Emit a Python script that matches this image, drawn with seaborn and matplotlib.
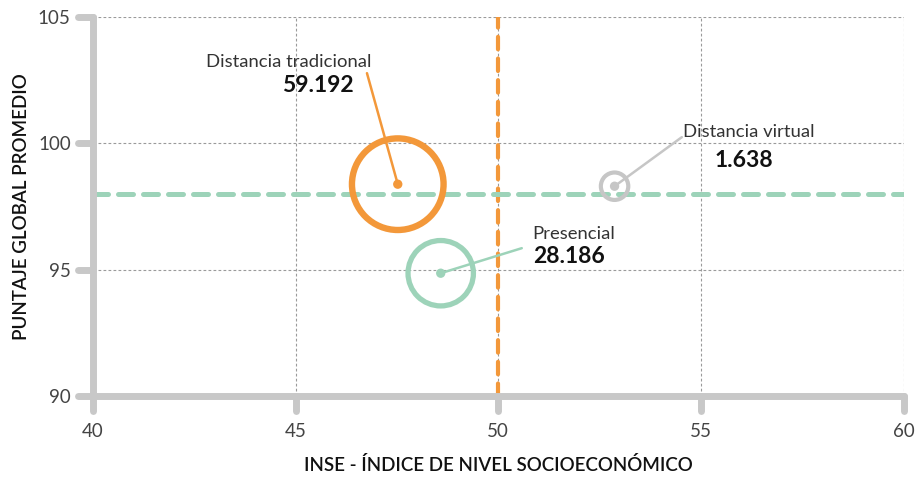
"""Burbujas de puntaje global promedio vs INSE por modalidad."""

import matplotlib

matplotlib.use("Agg")
import matplotlib.pyplot as plt
import matplotlib.lines as mlines
from matplotlib.markers import MarkerStyle
import pandas as pd
import seaborn as sns

# Datos
modalidades = ["Distancia tradicional", "Presencial", "Distancia virtual"]
inse = [47.52, 48.58, 52.87]
puntaje = [98.38, 94.86, 98.30]
estudiantes = [59192, 28186, 1638]
etiquetas_valor = ["59.192", "28.186", "1.638"]
corte_inse = 50
corte_puntaje = 98

x_ticks = [40, 45, 50, 55, 60]
y_ticks = [90, 95, 100, 105]

COLORES = {
    "Distancia tradicional": "#F3983A",
    "Presencial": "#9DD3B9",
    "Distancia virtual": "#C6C6C6",
}
GRIS_EJE = "#C8C8C8"

df = pd.DataFrame(
    {"modalidad": modalidades, "inse": inse, "puntaje": puntaje, "n": estudiantes}
)

sns.set_theme(style="white")
plt.rcParams["font.family"] = ["Lato", "DejaVu Sans"]

fig = plt.figure(figsize=(9.21, 4.79), dpi=100)
ax = fig.add_axes([0.101, 0.173, 0.880, 0.792])

ax.set_xlim(40, 60)
ax.set_ylim(90, 105)
ax.set_xticks(x_ticks)
ax.set_yticks(y_ticks)
ax.grid(True, linestyle=(0, (2.5, 2)), color="#9a9a9a", linewidth=0.8)
ax.set_axisbelow(True)

# lineas de corte
ax.axvline(corte_inse, color=COLORES["Distancia tradicional"], linewidth=3,
           linestyle=(0, (3.0, 2.2)), dash_capstyle="round", zorder=2)
ax.axhline(corte_puntaje, color=COLORES["Presencial"], linewidth=3.6,
           linestyle=(0, (3.0, 2.0)), dash_capstyle="round", zorder=2)

# burbujas
sns.scatterplot(
    data=df, x="inse", y="puntaje", hue="modalidad", palette=COLORES,
    size="n", sizes=(390, 4350), legend=False, ax=ax, zorder=3,
)
rings = ax.collections[-1]
rings.set_facecolor("none")
rings.set_edgecolor([COLORES[m] for m in modalidades])
rings.set_linewidths([4.6, 3.8, 3.0])

sns.scatterplot(
    data=df, x="inse", y="puntaje", hue="modalidad", palette=COLORES,
    s=45, linewidth=0, legend=False, ax=ax, zorder=4,
)

# anotaciones
text_pos = {
    "Distancia tradicional": ((44.83, 103.2), (45.55, 102.29), (46.76, 102.77), "center"),
    "Presencial": ((50.85, 96.4), (50.85, 95.53), (50.58, 95.85), "left"),
    "Distancia virtual": ((54.57, 100.43), (55.34, 99.33), (54.53, 100.24), "left"),
}
for m, x, y, val in zip(modalidades, inse, puntaje, etiquetas_valor):
    name_xy, val_xy, line_xy, ha = text_pos[m]
    ax.plot([line_xy[0], x], [line_xy[1], y], color=COLORES[m], linewidth=1.8,
            solid_capstyle="round", zorder=4)
    ax.text(*name_xy, m, ha=ha, va="center", fontsize=13.3, fontweight="normal",
            color="#333333")
    ax.text(*val_xy, val, ha=ha, va="center", fontsize=16.5, fontweight="bold",
            color="#111111")

# ejes
sns.despine(ax=ax)
for side in ["left", "bottom"]:
    ax.spines[side].set_color(GRIS_EJE)
    ax.spines[side].set_linewidth(5)
    ax.spines[side].set_capstyle("round")
    ax.spines[side].set_zorder(5)

ax.tick_params(axis="both", bottom=True, left=True, length=11, width=5,
               color=GRIS_EJE, labelsize=13.5, labelcolor="#444444")
ax.tick_params(axis="x", pad=8)
ax.tick_params(axis="y", pad=5)
for tick in ax.xaxis.get_major_ticks():
    tick.tick1line.set_marker(MarkerStyle(mlines.TICKDOWN, capstyle="round"))
for tick in ax.yaxis.get_major_ticks():
    tick.tick1line.set_marker(MarkerStyle(mlines.TICKLEFT, capstyle="round"))

ax.set_xlabel("INSE - ÍNDICE DE NIVEL SOCIOECONÓMICO", fontsize=13.5,
              fontweight="semibold", color="#111111", labelpad=12)
ax.set_ylabel("PUNTAJE GLOBAL PROMEDIO", fontsize=13.5, fontweight="semibold",
              color="#111111", labelpad=6)

fig.savefig("out.png", dpi=100)
